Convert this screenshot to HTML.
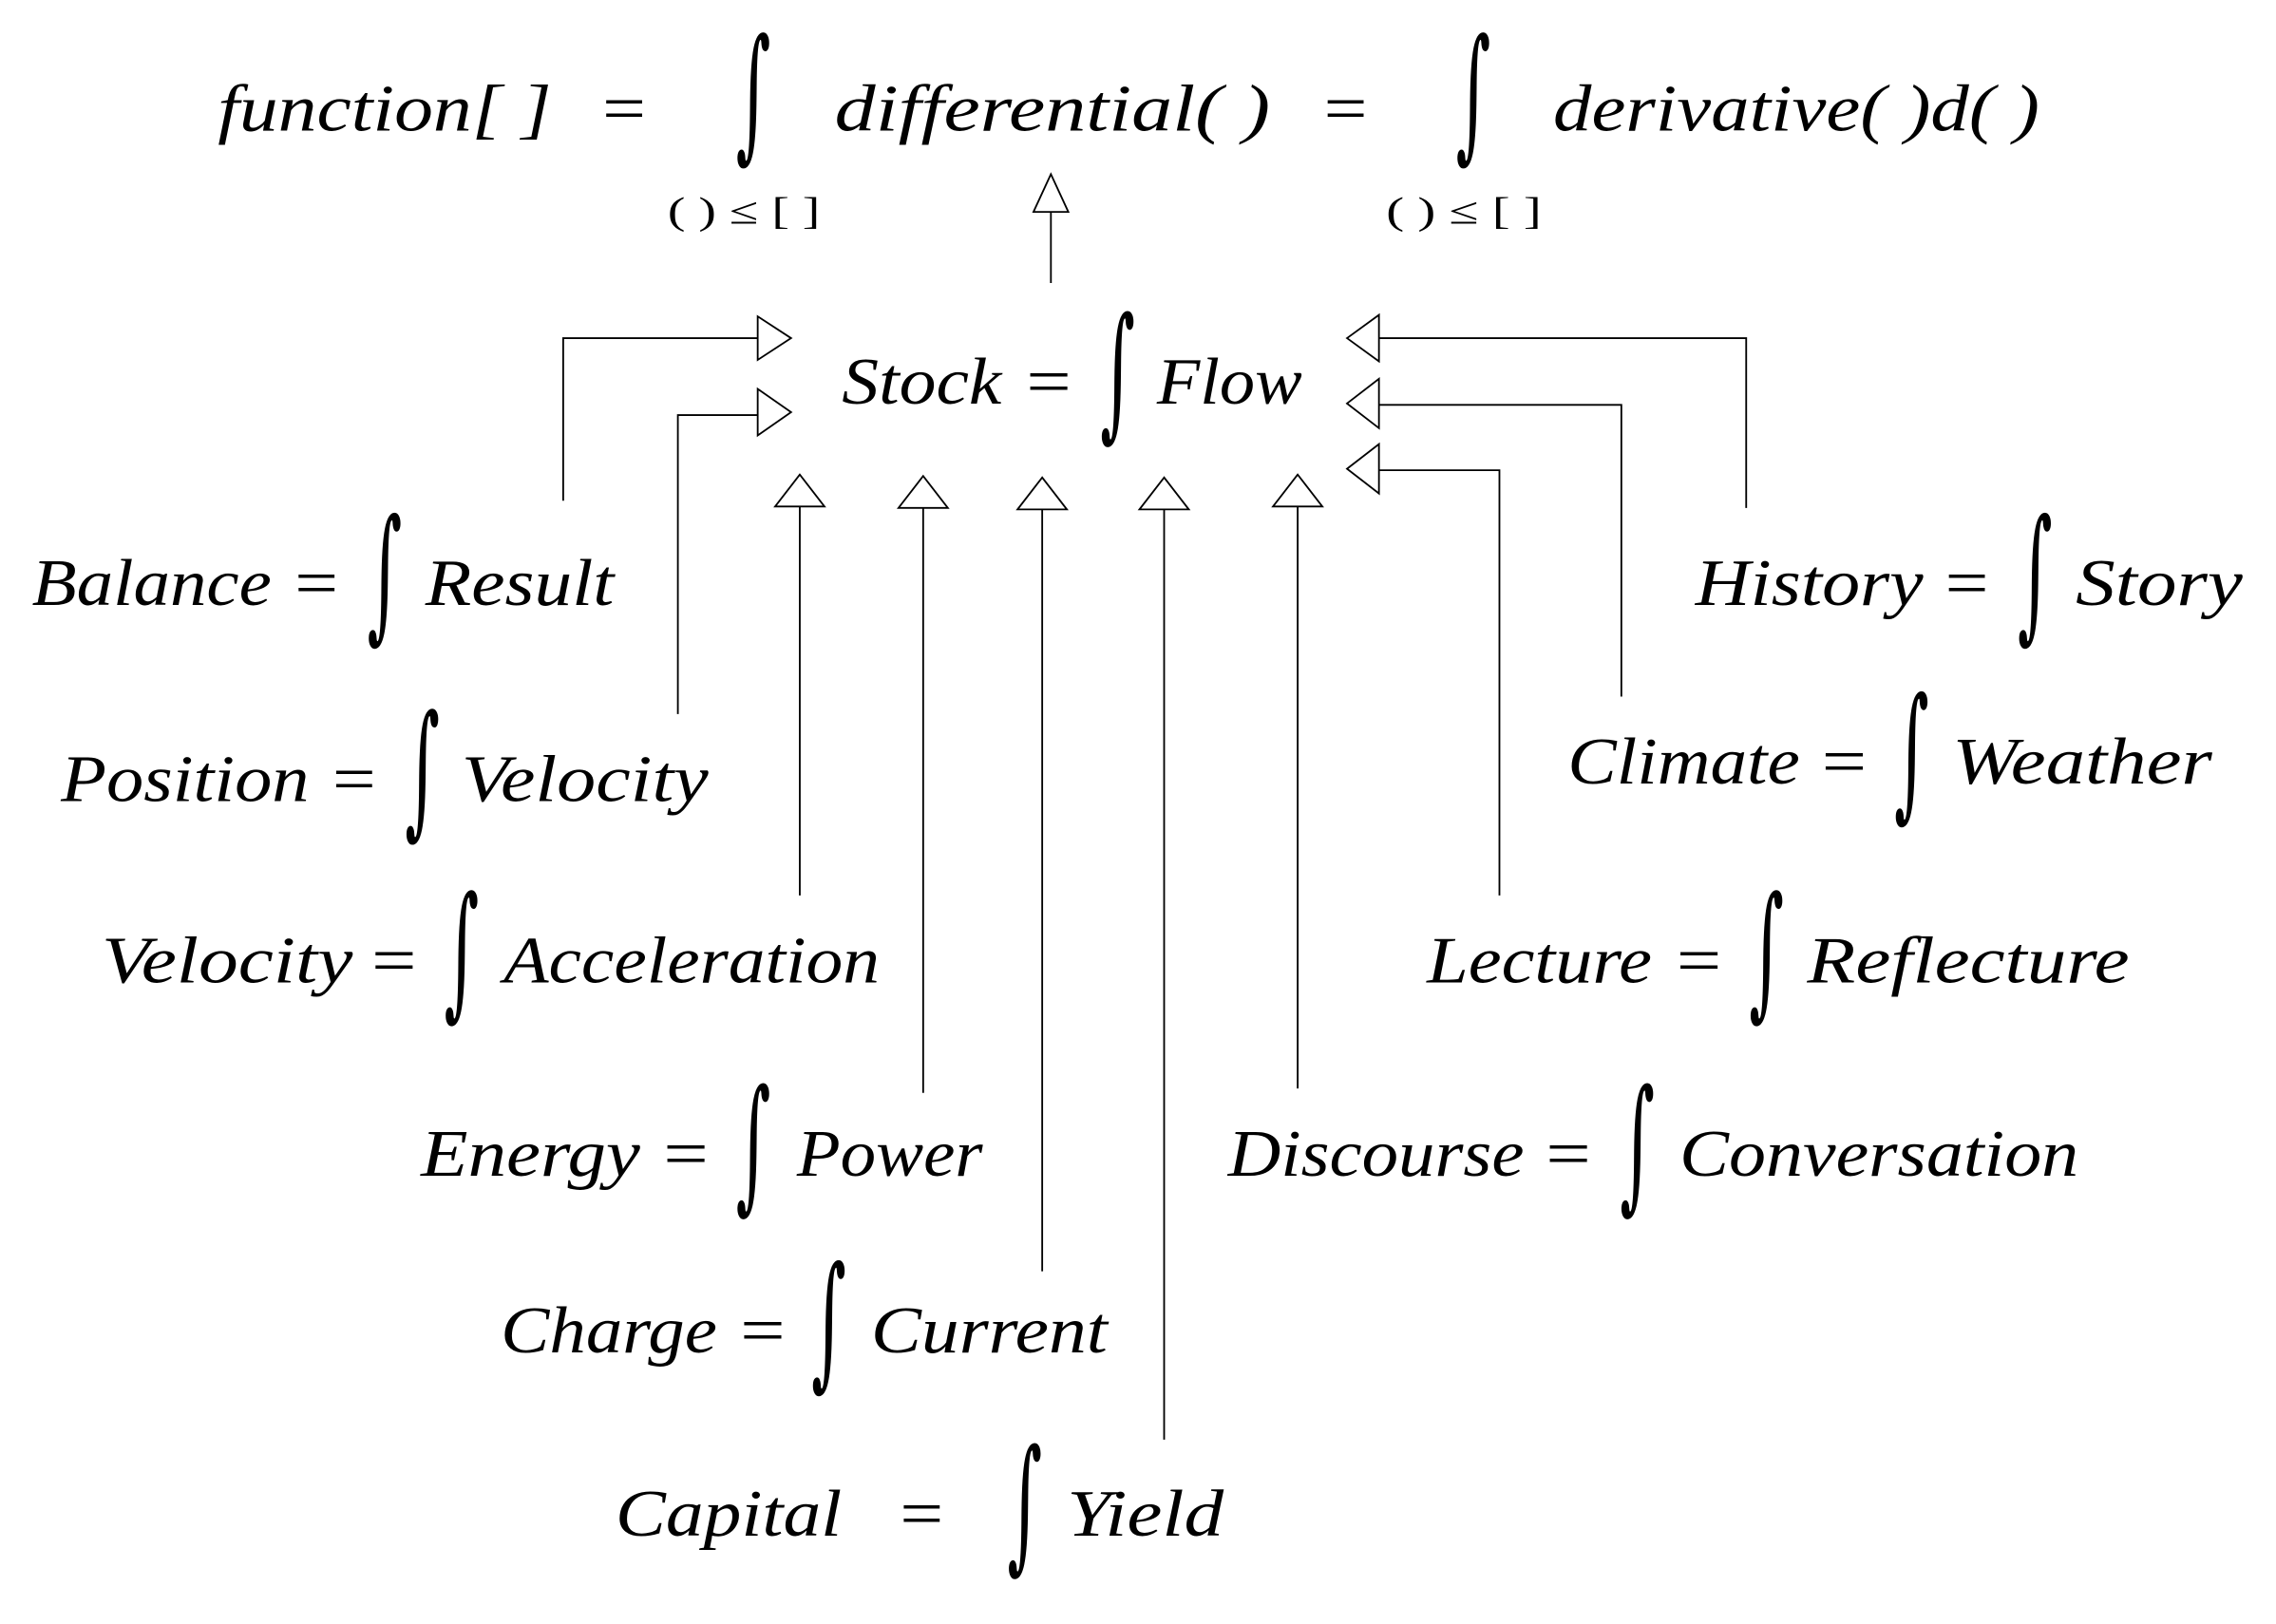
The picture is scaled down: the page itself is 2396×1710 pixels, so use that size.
<!DOCTYPE html>
<html><head><meta charset="utf-8"><style>
html,body{margin:0;padding:0;background:#fff}
svg{display:block}
text{font-family:"Liberation Serif",serif;fill:#000}
.w{font-style:italic;font-size:46px}
.e{font-size:46px}
.i{font-size:100px;font-style:italic;font-family:"DejaVu Serif",serif}
.s{font-size:26px}
</style></head><body>
<svg width="2396" height="1710" viewBox="0 0 1568 1119" preserveAspectRatio="none" xmlns="http://www.w3.org/2000/svg">
<g fill="none" stroke="#000" stroke-width="1.2">
<line x1="724" y1="195" x2="724" y2="146"/>
<polygon points="724,120 712,146 736,146" fill="#fff"/>
<polyline points="388,345 388,233 522,233"/>
<polygon points="545,233 522,218 522,248" fill="#fff"/>
<polyline points="467,492 467,286 522,286"/>
<polygon points="545,284 522,268 522,300" fill="#fff"/>
<polyline points="1203,350 1203,233 950,233"/>
<polygon points="928,233 950,217 950,249" fill="#fff"/>
<polyline points="1117,480 1117,279 950,279"/>
<polygon points="928,278 950,261 950,295" fill="#fff"/>
<polyline points="1033,617 1033,324 950,324"/>
<polygon points="928,323 950,306 950,340" fill="#fff"/>
<line x1="551" y1="617" x2="551" y2="349"/><polygon points="551,327 534,349 568,349" fill="#fff"/>
<line x1="636" y1="753" x2="636" y2="350"/><polygon points="636,328 619,350 653,350" fill="#fff"/>
<line x1="718" y1="876" x2="718" y2="351"/><polygon points="718,329 701,351 735,351" fill="#fff"/>
<line x1="802" y1="992" x2="802" y2="351"/><polygon points="802,329 785,351 819,351" fill="#fff"/>
<line x1="894" y1="750" x2="894" y2="349"/><polygon points="894,327 877,349 911,349" fill="#fff"/>
</g>

<text class="w" x="150" y="90" textLength="230" lengthAdjust="spacingAndGlyphs">function[ ]</text>
<text class="e" x="415" y="90" textLength="30" lengthAdjust="spacingAndGlyphs">=</text>
<text class="i" x="507" y="98" textLength="24" lengthAdjust="spacingAndGlyphs">∫</text>
<text class="w" x="575" y="90" textLength="300" lengthAdjust="spacingAndGlyphs">differential( )</text>
<text class="e" x="912" y="90" textLength="30" lengthAdjust="spacingAndGlyphs">=</text>
<text class="i" x="1003" y="98" textLength="24" lengthAdjust="spacingAndGlyphs">∫</text>
<text class="w" x="1070" y="90" textLength="335" lengthAdjust="spacingAndGlyphs">derivative( )d( )</text>
<text class="s" x="460" y="154" textLength="105" lengthAdjust="spacingAndGlyphs">( ) ≤ [ ]</text>
<text class="s" x="955" y="154" textLength="107" lengthAdjust="spacingAndGlyphs">( ) ≤ [ ]</text>

<text class="w" x="580" y="278" textLength="110" lengthAdjust="spacingAndGlyphs">Stock</text>
<text class="e" x="707" y="278" textLength="31" lengthAdjust="spacingAndGlyphs">=</text>
<text class="i" x="758" y="290" textLength="24" lengthAdjust="spacingAndGlyphs">∫</text>
<text class="w" x="797" y="278" textLength="100" lengthAdjust="spacingAndGlyphs">Flow</text>

<text class="w" x="22" y="417" textLength="165" lengthAdjust="spacingAndGlyphs">Balance</text>
<text class="e" x="203" y="417" textLength="30" lengthAdjust="spacingAndGlyphs">=</text>
<text class="i" x="253" y="429" textLength="24" lengthAdjust="spacingAndGlyphs">∫</text>
<text class="w" x="293" y="417" textLength="130" lengthAdjust="spacingAndGlyphs">Result</text>

<text class="w" x="42" y="552" textLength="171" lengthAdjust="spacingAndGlyphs">Position</text>
<text class="e" x="229" y="552" textLength="30" lengthAdjust="spacingAndGlyphs">=</text>
<text class="i" x="279" y="564" textLength="24" lengthAdjust="spacingAndGlyphs">∫</text>
<text class="w" x="318" y="552" textLength="170" lengthAdjust="spacingAndGlyphs">Velocity</text>

<text class="w" x="70" y="677" textLength="173" lengthAdjust="spacingAndGlyphs">Velocity</text>
<text class="e" x="256" y="677" textLength="31" lengthAdjust="spacingAndGlyphs">=</text>
<text class="i" x="306" y="689" textLength="24" lengthAdjust="spacingAndGlyphs">∫</text>
<text class="w" x="347" y="677" textLength="259" lengthAdjust="spacingAndGlyphs">Acceleration</text>

<text class="w" x="290" y="810" textLength="151" lengthAdjust="spacingAndGlyphs">Energy</text>
<text class="e" x="457" y="810" textLength="31" lengthAdjust="spacingAndGlyphs">=</text>
<text class="i" x="507" y="822" textLength="24" lengthAdjust="spacingAndGlyphs">∫</text>
<text class="w" x="549" y="810" textLength="128" lengthAdjust="spacingAndGlyphs">Power</text>

<text class="w" x="345" y="932" textLength="149" lengthAdjust="spacingAndGlyphs">Charge</text>
<text class="e" x="510" y="932" textLength="31" lengthAdjust="spacingAndGlyphs">=</text>
<text class="i" x="559" y="944" textLength="24" lengthAdjust="spacingAndGlyphs">∫</text>
<text class="w" x="600" y="932" textLength="163" lengthAdjust="spacingAndGlyphs">Current</text>

<text class="w" x="424" y="1058" textLength="156" lengthAdjust="spacingAndGlyphs">Capital</text>
<text class="e" x="620" y="1058" textLength="30" lengthAdjust="spacingAndGlyphs">=</text>
<text class="i" x="694" y="1070" textLength="24" lengthAdjust="spacingAndGlyphs">∫</text>
<text class="w" x="735" y="1058" textLength="108" lengthAdjust="spacingAndGlyphs">Yield</text>

<text class="w" x="1168" y="417" textLength="157" lengthAdjust="spacingAndGlyphs">History</text>
<text class="e" x="1340" y="417" textLength="30" lengthAdjust="spacingAndGlyphs">=</text>
<text class="i" x="1390" y="429" textLength="24" lengthAdjust="spacingAndGlyphs">∫</text>
<text class="w" x="1430" y="417" textLength="115" lengthAdjust="spacingAndGlyphs">Story</text>

<text class="w" x="1080" y="540" textLength="160" lengthAdjust="spacingAndGlyphs">Climate</text>
<text class="e" x="1255" y="540" textLength="31" lengthAdjust="spacingAndGlyphs">=</text>
<text class="i" x="1305" y="552" textLength="24" lengthAdjust="spacingAndGlyphs">∫</text>
<text class="w" x="1345" y="540" textLength="179" lengthAdjust="spacingAndGlyphs">Weather</text>

<text class="w" x="983" y="677" textLength="155" lengthAdjust="spacingAndGlyphs">Lecture</text>
<text class="e" x="1155" y="677" textLength="31" lengthAdjust="spacingAndGlyphs">=</text>
<text class="i" x="1205" y="689" textLength="24" lengthAdjust="spacingAndGlyphs">∫</text>
<text class="w" x="1245" y="677" textLength="222" lengthAdjust="spacingAndGlyphs">Reflecture</text>

<text class="w" x="846" y="810" textLength="204" lengthAdjust="spacingAndGlyphs">Discourse</text>
<text class="e" x="1065" y="810" textLength="31" lengthAdjust="spacingAndGlyphs">=</text>
<text class="i" x="1116" y="822" textLength="24" lengthAdjust="spacingAndGlyphs">∫</text>
<text class="w" x="1157" y="810" textLength="275" lengthAdjust="spacingAndGlyphs">Conversation</text>
</svg>
</body></html>
